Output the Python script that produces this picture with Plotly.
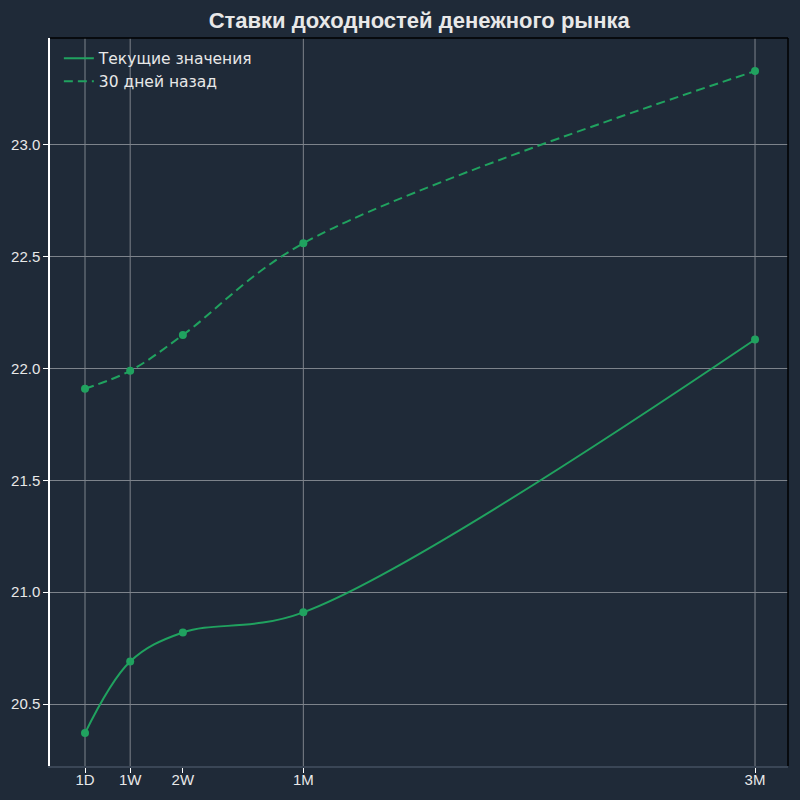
import plotly.graph_objects as go

# Data
tenor_labels = ["1D", "1W", "2W", "1M", "3M"]
tenor_days = [1, 7, 14, 30, 90]
current_values = [20.37, 20.69, 20.82, 20.91, 22.13]
past_values = [21.91, 21.99, 22.15, 22.56, 23.33]
grid_days = [1, 7, 30, 90]
y_ticks = [20.5, 21.0, 21.5, 22.0, 22.5, 23.0]

BG = "#1f2a38"
GREEN = "#20a25f"
GRID = "#7d838b"
TXT = "#e8e8e8"
SANS = "Liberation Sans, Arial, sans-serif"

fig = go.Figure()
series = [
    ("Текущие значения", current_values, "solid"),
    ("30 дней назад", past_values, "9px,5px"),
]
for name, vals, dash in series:
    fig.add_trace(go.Scatter(
        x=tenor_days, y=vals, mode="lines", name=name,
        line=dict(color=GREEN, width=2, shape="spline", smoothing=1.0, dash=dash),
    ))
    fig.add_trace(go.Scatter(
        x=tenor_days, y=vals, mode="markers", showlegend=False, hoverinfo="skip",
        marker=dict(color=GREEN, size=8),
    ))

shapes = []
for d in grid_days:
    shapes.append(dict(type="line", xref="x", yref="paper", x0=d, x1=d, y0=0, y1=1,
                       line=dict(color=GRID, width=1), layer="below"))
# spines
shapes.append(dict(type="line", xref="paper", yref="paper", x0=1, x1=1, y0=0, y1=1,
                   line=dict(color="#000000", width=1.5)))
shapes.append(dict(type="line", xref="paper", yref="paper", x0=0, x1=1, y0=1, y1=1,
                   line=dict(color="#000000", width=1.5)))

fig.update_layout(
    width=800, height=800,
    paper_bgcolor=BG, plot_bgcolor=BG,
    margin=dict(l=50, r=12, t=38, b=34),
    title=dict(text="<b>Ставки доходностей денежного рынка</b>", x=0.524, xanchor="center",
               y=0.975, yanchor="middle", automargin=False,
               font=dict(family=SANS, size=22, color=TXT)),
    showlegend=True,
    legend=dict(x=0.012, y=0.995, xanchor="left", yanchor="top", bgcolor="rgba(0,0,0,0)",
                font=dict(family="DejaVu Sans", size=15.5, color=TXT)),
    shapes=shapes,
    xaxis=dict(range=[-3.65, 94.38], tickmode="array", tickvals=tenor_days, ticktext=tenor_labels,
               showgrid=False, zeroline=False, showline=True, linecolor="#3a4656", linewidth=1.5,
               ticks="outside", ticklen=5, tickcolor="#ffffff", tickwidth=1, automargin=False,
               ticklabelstandoff=-6,
               tickfont=dict(family=SANS, size=15, color=TXT)),
    yaxis=dict(range=[20.223, 23.478], tickmode="array", tickvals=y_ticks, tickformat=".1f",
               showgrid=True, gridcolor=GRID, gridwidth=1, zeroline=False,
               showline=True, linecolor="#ffffff", linewidth=1.5, automargin=False,
               ticks="outside", ticklen=5, tickcolor="#ffffff", tickwidth=1,
               tickfont=dict(family=SANS, size=15, color=TXT)),
)

fig.write_html("out.html", config={"displayModeBar": False},
               post_script="document.body.style.margin='0';")
